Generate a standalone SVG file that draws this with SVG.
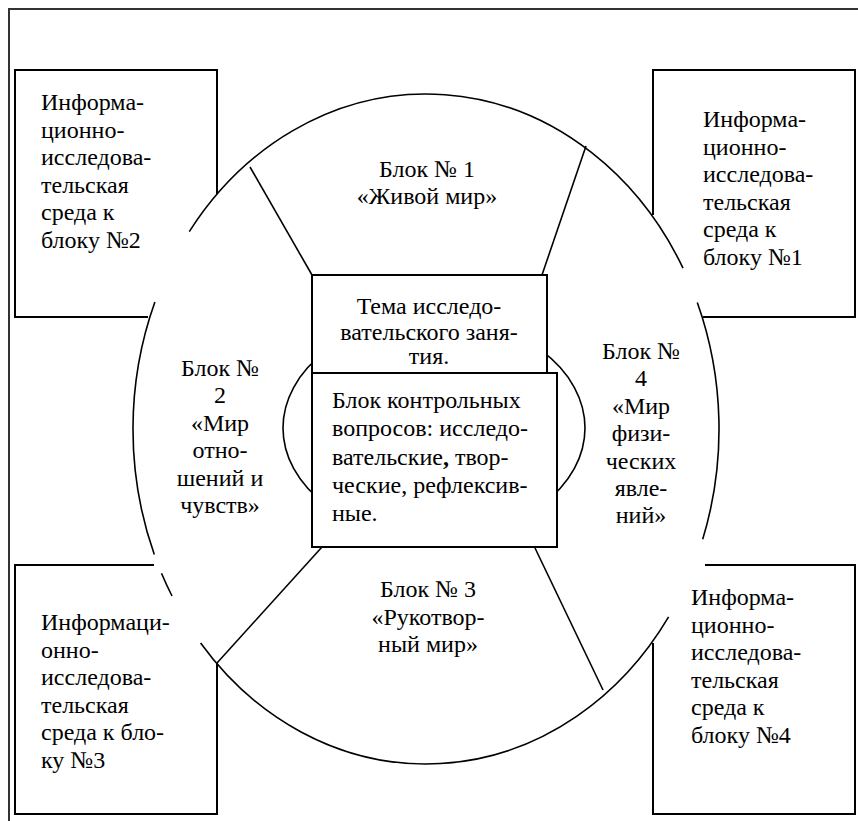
<svg xmlns="http://www.w3.org/2000/svg" width="858" height="821" viewBox="0 0 858 821" font-family="'Liberation Serif', 'Times New Roman', 'DejaVu Serif', serif" font-size="24">
<style>
text{font-family:'Liberation Serif','Times New Roman','DejaVu Serif',serif;font-size:24px;fill:#000}
.box{fill:none;stroke:#000;stroke-width:2}
.wbox{fill:#fff;stroke:#000;stroke-width:2}
.arc{fill:none;stroke:#000;stroke-width:1.6}
.ln{fill:none;stroke:#000;stroke-width:1.6}
.c{text-anchor:middle}
</style>
<rect x="0" y="0" width="858" height="821" fill="#fff"/>
<path d="M9,821 V9 H858" fill="none" stroke="#333" stroke-width="2"/>

<g id="ring">
<path class="arc" d="M697.3,302.4 A293,335 0 0 1 702.7,539.2"/>
<path class="arc" d="M668.6,616.8 A293,335 0 0 1 200.6,643"/>
<path class="arc" d="M172,596 A293,335 0 0 1 161.5,573.2"/>
<path class="arc" d="M154.3,554.5 A293,335 0 0 1 154.9,301.9"/>
<path class="arc" d="M189.3,231.6 A293,335 0 0 1 683,268.1"/>
</g>

<g id="connectors">
<line class="ln" x1="250" y1="167" x2="312" y2="275"/>
<line class="ln" x1="586" y1="146" x2="542" y2="275"/>
<line class="ln" x1="322" y1="547" x2="217" y2="663"/>
<line class="ln" x1="535" y1="548" x2="603" y2="690"/>
</g>

<g id="env2">
<path class="box" d="M217,194 V70 H15 V317 H148"/>
<text x="41" y="110">Информа-</text>
<text x="41" y="137.5">ционно-</text>
<text x="41" y="165">исследова-</text>
<text x="41" y="192.5">тельская</text>
<text x="41" y="220">среда к</text>
<text x="41" y="247.5">блоку №2</text>
</g>

<g id="env1">
<path class="box" d="M653,215 V70 H855 V317 H703"/>
<text x="703" y="127">Информа-</text>
<text x="703" y="154.5">ционно-</text>
<text x="703" y="182">исследова-</text>
<text x="703" y="209.5">тельская</text>
<text x="703" y="237">среда к</text>
<text x="703" y="264.5">блоку №1</text>
</g>

<g id="env3">
<path class="box" d="M154,565 H15 V814 H217 V663"/>
<text x="41" y="630">Информаци-</text>
<text x="41" y="657.5">онно-</text>
<text x="41" y="685">исследова-</text>
<text x="41" y="712.5">тельская</text>
<text x="41" y="740">среда к бло-</text>
<text x="41" y="767.5">ку №3</text>
</g>

<g id="env4">
<path class="box" d="M705,565 H855 V814 H653 V643"/>
<text x="691" y="605">Информа-</text>
<text x="691" y="632.5">ционно-</text>
<text x="691" y="660">исследова-</text>
<text x="691" y="687.5">тельская</text>
<text x="691" y="715">среда к</text>
<text x="691" y="742.5">блоку №4</text>
</g>

<g id="block1">
<text class="c" x="427" y="177">Блок № 1</text>
<text class="c" x="427" y="204">«Живой мир»</text>
</g>

<g id="block2">
<text class="c" x="220" y="376">Блок №</text>
<text class="c" x="220" y="403.4">2</text>
<text class="c" x="220" y="430.8">«Мир</text>
<text class="c" x="220" y="458.2">отно-</text>
<text class="c" x="220" y="485.6">шений и</text>
<text class="c" x="220" y="513">чувств»</text>
</g>

<g id="block3">
<text class="c" x="428" y="597">Блок № 3</text>
<text class="c" x="428" y="624.5">«Рукотвор-</text>
<text class="c" x="428" y="652">ный мир»</text>
</g>

<g id="block4">
<text class="c" x="641" y="359">Блок №</text>
<text class="c" x="641" y="386.4">4</text>
<text class="c" x="641" y="413.8">«Мир</text>
<text class="c" x="641" y="441.2">физи-</text>
<text class="c" x="641" y="468.6">ческих</text>
<text class="c" x="641" y="496">явле-</text>
<text class="c" x="641" y="523.4">ний»</text>
</g>

<g id="core">
<ellipse class="arc" cx="434" cy="428" rx="151" ry="110" fill="#fff"/>
</g>

<g id="theme">
<rect class="wbox" x="312" y="275" width="235" height="98"/>
<text class="c" x="429" y="314">Тема исследо-</text>
<text class="c" x="429" y="340">вательского заня-</text>
<text class="c" x="429" y="364">тия.</text>
</g>

<g id="questions">
<rect class="wbox" x="312" y="373" width="245" height="174"/>
<text x="332" y="408">Блок контрольных</text>
<text x="332" y="436">вопросов: исследо-</text>
<text x="332" y="465">вательские<tspan font-weight="bold">,</tspan> твор-</text>
<text x="332" y="493">ческие, рефлексив-</text>
<text x="332" y="521">ные.</text>
</g>
</svg>
